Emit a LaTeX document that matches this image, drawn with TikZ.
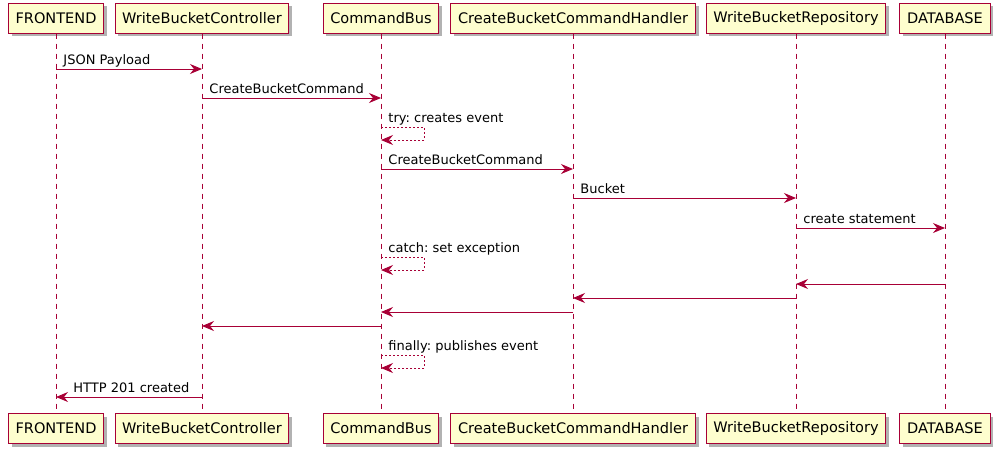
\documentclass[tikz,border=0pt]{standalone}
\usepackage{fontspec}
\setmainfont{DejaVu Sans}
\usetikzlibrary{positioning,shadows,arrows.meta}
\definecolor{umlred}{HTML}{A80036}
\definecolor{umlfill}{HTML}{FEFECE}
\frenchspacing

\begin{document}
\begin{tikzpicture}[x=0.75pt,y=-0.75pt,on grid,
participant/.style={rectangle,draw=umlred,fill=umlfill,line width=0.75pt,
  minimum height=22.5pt,inner xsep=5.4pt,inner ysep=0pt,
  font=\fontsize{10.9pt}{12pt}\selectfont,
  drop shadow={shadow xshift=2.5pt,shadow yshift=-2.5pt,opacity=0.3,fill=black}},
life/.style={draw=umlred,line width=0.7pt,dash pattern=on 3.75pt off 3.75pt},
msg/.style={draw=umlred,line width=0.7pt,-{Stealth[length=9pt,width=7.5pt,inset=3pt]}},
self/.style={msg,dash pattern=on 1.5pt off 1.5pt},
lbl/.style={inner sep=0pt,anchor=base west,xshift=5.25pt,yshift=3.5pt,
  font=\fontsize{9.75pt}{11pt}\selectfont}
]
\useasboundingbox (0,0) rectangle (999,454);
% participants, top row
\node[participant] (Tfront) at (56,18) {FRONTEND};
\node[participant] (Tctrl) [right = 109.5pt of Tfront] {WriteBucketController};
\node[participant] (Tbus) [right = 134.25pt of Tctrl] {CommandBus};
\node[participant] (Thandler) [right = 144pt of Tbus] {CreateBucketCommandHandler};
\node[participant] (Trepo) [right = 167.25pt of Thandler] {WriteBucketRepository};
\node[participant] (Tdb) [right = 111.75pt of Trepo] {DATABASE};
% participants, bottom row
\node[participant] (Bfront) [below = 307.9pt of Tfront] {FRONTEND};
\node[participant] (Bctrl) [below = 307.9pt of Tctrl] {WriteBucketController};
\node[participant] (Bbus) [below = 307.9pt of Tbus] {CommandBus};
\node[participant] (Bhandler) [below = 307.9pt of Thandler] {CreateBucketCommandHandler};
\node[participant] (Brepo) [below = 307.9pt of Trepo] {WriteBucketRepository};
\node[participant] (Bdb) [below = 307.9pt of Tdb] {DATABASE};
\foreach \p in {front,ctrl,bus,handler,repo,db}
  \draw[life] (T\p) -- (B\p);
% message rows
\coordinate (m1) at (0,69);
\coordinate (m2) at (0,98);
\coordinate (m3) at (0,127);
\coordinate (m4) at (0,169);
\coordinate (m5) at (0,198);
\coordinate (m6) at (0,228);
\coordinate (m7) at (0,257);
\coordinate (m8) at (0,284);
\coordinate (m9) at (0,298);
\coordinate (m10) at (0,312);
\coordinate (m11) at (0,326);
\coordinate (m12) at (0,355);
\coordinate (m13) at (0,397);
\draw[msg] (Tfront |- m1) -- node[lbl,pos=0] {JSON Payload} (Tctrl |- m1);
\draw[msg] (Tctrl |- m2) -- node[lbl,pos=0] {CreateBucketCommand} (Tbus |- m2);
\draw[self] (Tbus |- m3) node[lbl] {try: creates event} -- ++(43,0) -- ++(0,13) -- ++(-43,0);
\draw[msg] (Tbus |- m4) -- node[lbl,pos=0] {CreateBucketCommand} (Thandler |- m4);
\draw[msg] (Thandler |- m5) -- node[lbl,pos=0] {Bucket} (Trepo |- m5);
\draw[msg] (Trepo |- m6) -- node[lbl,pos=0] {create statement} (Tdb |- m6);
\draw[self] (Tbus |- m7) node[lbl] {catch: set exception} -- ++(43,0) -- ++(0,13) -- ++(-43,0);
\draw[msg] (Tdb |- m8) -- (Trepo |- m8);
\draw[msg] (Trepo |- m9) -- (Thandler |- m9);
\draw[msg] (Thandler |- m10) -- (Tbus |- m10);
\draw[msg] (Tbus |- m11) -- (Tctrl |- m11);
\draw[self] (Tbus |- m12) node[lbl] {finally: publishes event} -- ++(43,0) -- ++(0,13) -- ++(-43,0);
\draw[msg] (Tctrl |- m13) -- node[lbl,pos=1,xshift=7.5pt] {HTTP 201 created} (Tfront |- m13);
\end{tikzpicture}
\end{document}
